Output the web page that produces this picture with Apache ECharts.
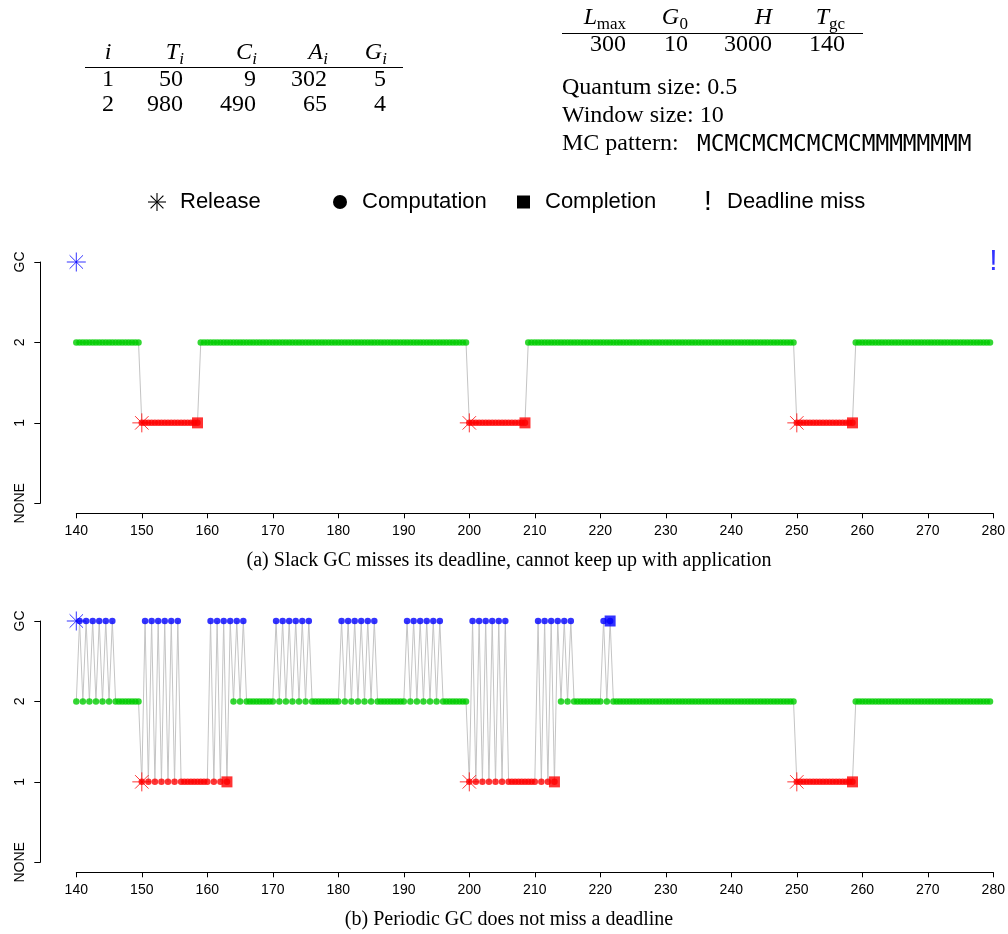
<!DOCTYPE html>
<html>
<head>
<meta charset="utf-8">
<title>Slack GC vs periodic GC schedule</title>
<script src="https://cdn.jsdelivr.net/npm/echarts@6/dist/echarts.min.js"></script>
<style>
  html, body { margin: 0; padding: 0; background: #fff; }
  #chart { width: 1008px; height: 934px; }
</style>
</head>
<body>
<div id="chart"></div>
<script>
// y axis: who runs in a quantum
const levelNames = ["NONE", "1", "2", "GC"];
const xMin = 140;
const xMax = 280;
const xStep = 10;
const quantum = 0.5;

// task table
const taskIds = [1, 2];
const taskT = [50, 980];
const taskC = [9, 490];
const taskA = [302, 65];
const taskG = [5, 4];

// collector parameters
const gcHeads = ["L", "G", "H", "T"];
const gcSubs = ["max", "0", "", "gc"];
const gcValues = [300, 10, 3000, 140];
const mcPattern = "MCMCMCMCMCMCMMMMMMMM";

// one char per 0.5 quantum from t=140, one string per 10-unit window
// 2 = task 2, 1 = task 1, G = collector
const traceA = [
  "22222222222222222222", // 140
  "11111111111111111122", // 150
  "22222222222222222222", // 160
  "22222222222222222222", // 170
  "22222222222222222222", // 180
  "22222222222222222222", // 190
  "11111111111111111122", // 200
  "22222222222222222222", // 210
  "22222222222222222222", // 220
  "22222222222222222222", // 230
  "22222222222222222222", // 240
  "11111111111111111122", // 250
  "22222222222222222222", // 260
  "22222222222222222222", // 270
];
const traceB = [
  "2G2G2G2G2G2G22222222", // 140
  "1G1G1G1G1G1G11111111", // 150
  "1G1G1G1G2G2G22222222", // 160
  "2G2G2G2G2G2G22222222", // 170
  "2G2G2G2G2G2G22222222", // 180
  "2G2G2G2G2G2G22222222", // 190
  "1G1G1G1G1G1G11111111", // 200
  "1G1G1G1G2G2G22222222", // 210
  "2G2G2222222222222222", // 220
  "22222222222222222222", // 230
  "22222222222222222222", // 240
  "11111111111111111122", // 250
  "22222222222222222222", // 260
  "22222222222222222222", // 270
];

const task1Releases = [150, 200, 250];
const gcReleases = [140];
const task1DoneA = [158.5, 208.5, 258.5];
const task1DoneB = [163, 213, 258.5];
const gcDoneB = [221.5];
const gcMissA = [280];

const sans = '"Liberation Sans", Arial, Helvetica, sans-serif';
const serif = '"Liberation Serif", "Times New Roman", Times, serif';
const mono = '"DejaVu Sans Mono", "Liberation Mono", monospace';

const levelOf = { "1": 1, "2": 2, "G": 3 };
const levelColor = ["#000000", "#ff0000", "#00cd00", "#0000ff"];
const asterisk = "path://M10,0L10,20M0,10L20,10M2.93,2.93L17.07,17.07M2.93,17.07L17.07,2.93";

function decode(trace) {
  const codes = trace.join("");
  const pts = [];
  for (let i = 0; i < codes.length; i++) {
    pts.push([xMin + i * quantum, levelOf[codes[i]]]);
  }
  return pts;
}

// points at one level, each carrying its own colour
function at(times, level, stroke) {
  return times.map(t => ({
    value: [t, level],
    itemStyle: stroke
      ? { color: "rgba(0,0,0,0)", borderColor: levelColor[level], borderWidth: 1 }
      : { color: levelColor[level] },
  }));
}

const gridTops = [262, 621];

function panelSeries(idx, trace, releases, done, misses) {
  const pts = decode(trace);
  const base = { xAxisIndex: idx, yAxisIndex: idx, animation: false, silent: true };
  return [
    Object.assign({}, base, {
      type: "line",
      data: pts,
      symbol: "none",
      lineStyle: { color: "#c4c4c4", width: 1 },
      z: 1,
    }),
    Object.assign({}, base, {
      type: "scatter",
      data: pts,
      symbol: "circle",
      symbolSize: 6.5,
      itemStyle: { color: p => levelColor[p.value[1]] },
      z: 2,
    }),
    Object.assign({}, base, {
      type: "scatter",
      data: releases,
      symbol: asterisk,
      symbolSize: 19,
      z: 3,
    }),
    Object.assign({}, base, {
      type: "scatter",
      data: done,
      symbol: "rect",
      symbolSize: 11,
      z: 4,
    }),
    Object.assign({}, base, {
      type: "scatter",
      data: misses,
      symbol: "circle",
      symbolSize: 1,
      itemStyle: { color: "rgba(0,0,0,0)" },
      label: {
        show: true,
        position: "inside",
        formatter: "!",
        color: "#0000ff",
        fontFamily: sans,
        fontSize: 30,
      },
      z: 5,
    }),
  ];
}

function txt(x, y, text, size, family, align, italic) {
  return {
    type: "text",
    x: x,
    y: y,
    silent: true,
    style: {
      text: String(text),
      fill: "#000",
      fontSize: size,
      fontFamily: family,
      fontStyle: italic ? "italic" : "normal",
      align: align || "left",
      verticalAlign: "middle",
    },
  };
}

function rule(x1, x2, y) {
  return {
    type: "line",
    silent: true,
    shape: { x1: x1, y1: y, x2: x2, y2: y },
    style: { stroke: "#000", lineWidth: 1 },
  };
}

const graphics = [];

// task table
const t1Right = [184, 257, 328, 387];
const t1Heads = ["T", "C", "A", "G"];
graphics.push(txt(108, 53, "i", 24, serif, "center", true));
t1Heads.forEach((h, k) => {
  graphics.push(txt(t1Right[k] - 5, 53, h, 24, serif, "right", true));
  graphics.push(txt(t1Right[k], 60, "i", 17, serif, "right", true));
});
graphics.push(rule(85, 403, 67.5));
[taskIds, taskT, taskC, taskA, taskG].forEach((col, k) => {
  col.forEach((v, r) => {
    const y = 80 + r * 25;
    if (k === 0) graphics.push(txt(108, y, v, 24, serif, "center"));
    else graphics.push(txt(t1Right[k - 1] - 1, y, v, 24, serif, "right"));
  });
});

// collector table
const t2Right = [626, 688, 772, 845];
const t2SubW = [29, 9, 0, 16];
gcHeads.forEach((h, k) => {
  graphics.push(txt(t2Right[k] - t2SubW[k], 18, h, 24, serif, "right", true));
  if (gcSubs[k]) graphics.push(txt(t2Right[k], 25, gcSubs[k], 17, serif, "right"));
  graphics.push(txt(t2Right[k], 45, gcValues[k], 24, serif, "right"));
});
graphics.push(rule(562, 863, 33.5));
graphics.push(txt(562, 88, "Quantum size: " + quantum, 24, serif));
graphics.push(txt(562, 116, "Window size: " + xStep, 24, serif));
graphics.push(txt(562, 144, "MC pattern:", 24, serif));
graphics.push(txt(697, 145, mcPattern, 22.8, mono));

// legend row
const ly = 202;
[[157, ly - 9, 157, ly + 9], [148, ly, 166, ly], [150.6, ly - 6.4, 163.4, ly + 6.4], [150.6, ly + 6.4, 163.4, ly - 6.4]]
  .forEach(s => graphics.push({
    type: "line", silent: true,
    shape: { x1: s[0], y1: s[1], x2: s[2], y2: s[3] },
    style: { stroke: "#000", lineWidth: 1.1 },
  }));
graphics.push(txt(180, ly, "Release", 22, sans));
graphics.push({ type: "circle", silent: true, shape: { cx: 340, cy: ly, r: 7 }, style: { fill: "#000" } });
graphics.push(txt(362, ly, "Computation", 22, sans));
graphics.push({ type: "rect", silent: true, shape: { x: 517, y: ly - 6.5, width: 13, height: 13 }, style: { fill: "#000" } });
graphics.push(txt(545, ly, "Completion", 22, sans));
graphics.push(txt(708, ly, "!", 28, sans, "center"));
graphics.push(txt(727, ly, "Deadline miss", 22, sans));

// captions
graphics.push(txt(509, 561, "(a) Slack GC misses its deadline, cannot keep up with application", 20, serif, "center"));
graphics.push(txt(509, 920, "(b) Periodic GC does not miss a deadline", 20, serif, "center"));

const axisColor = "#000";
const grids = gridTops.map(top => ({ left: 76.3, top: top, width: 917, height: 241.3 }));
const xAxes = gridTops.map((_, i) => ({
  type: "value",
  gridIndex: i,
  min: xMin,
  max: xMax,
  interval: xStep,
  offset: 10,
  axisLine: { show: true, onZero: false, lineStyle: { color: axisColor, width: 1 } },
  axisTick: { show: true, length: 5, lineStyle: { color: axisColor } },
  axisLabel: { color: "#000", fontFamily: sans, fontSize: 14, margin: 11 },
  splitLine: { show: false },
}));
const yAxes = gridTops.map((_, i) => ({
  type: "value",
  gridIndex: i,
  min: 0,
  max: 3,
  interval: 1,
  offset: 36,
  axisLine: { show: true, lineStyle: { color: axisColor, width: 1 } },
  axisTick: { show: true, length: 6, lineStyle: { color: axisColor } },
  axisLabel: {
    color: "#000",
    fontFamily: sans,
    fontSize: 14,
    rotate: 90,
    margin: 13,
    formatter: v => levelNames[v],
  },
  splitLine: { show: false },
}));

const chart = echarts.init(document.getElementById("chart"));
chart.setOption({
  animation: false,
  backgroundColor: "#fff",
  grid: grids,
  xAxis: xAxes,
  yAxis: yAxes,
  series: [
    ...panelSeries(0, traceA,
      at(task1Releases, 1, true).concat(at(gcReleases, 3, true)),
      at(task1DoneA, 1), at(gcMissA, 3)),
    ...panelSeries(1, traceB,
      at(task1Releases, 1, true).concat(at(gcReleases, 3, true)),
      at(task1DoneB, 1).concat(at(gcDoneB, 3)), []),
  ],
  graphic: graphics,
});
</script>
</body>
</html>
